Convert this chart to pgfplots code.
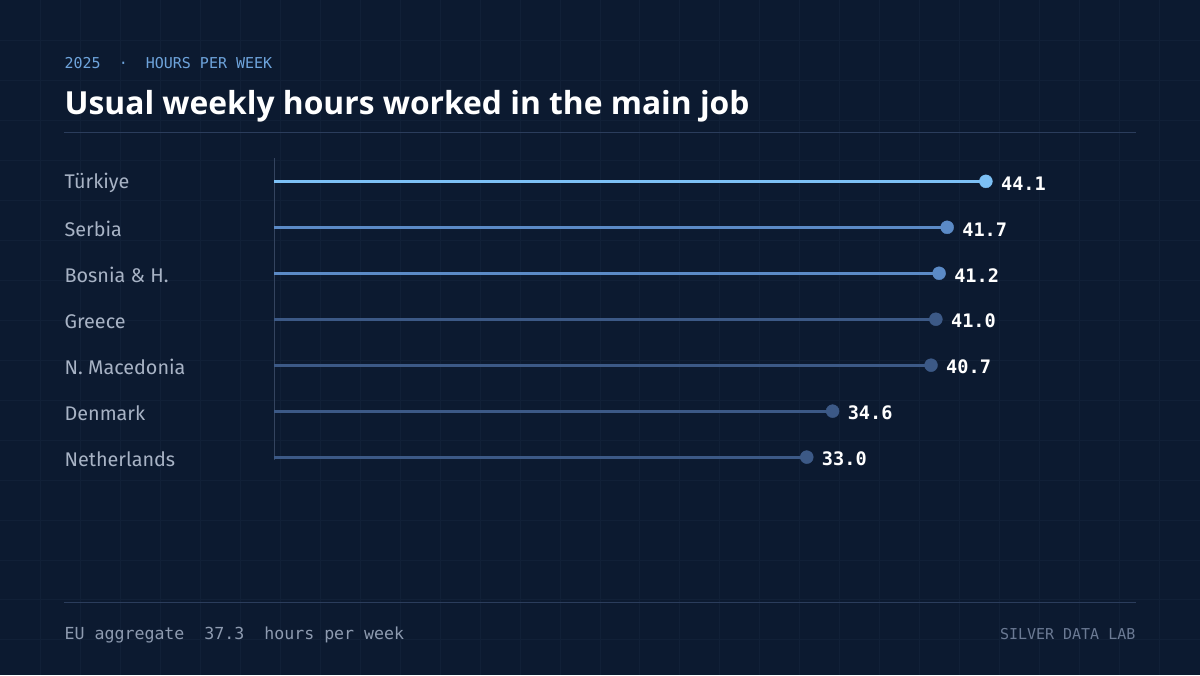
\documentclass[border=0pt]{standalone}
\usepackage{fontspec}
\setmainfont{Fira Sans}
\setmonofont{DejaVu Sans Mono}
\newfontfamily\titlefont{Open Sans}
\usepackage{pgfplots}
\pgfplotsset{compat=1.18}

\definecolor{bg}{HTML}{0C1A30}
\definecolor{gridc}{HTML}{112037}
\definecolor{rulec}{HTML}{2B3D5C}
\definecolor{axisc}{HTML}{34445F}
\definecolor{hi}{HTML}{7CC0F5}
\definecolor{mid}{HTML}{5B8AC6}
\definecolor{lo}{HTML}{3C5986}
\definecolor{lab}{HTML}{A8B3C5}
\definecolor{sub}{HTML}{6EA4DC}
\definecolor{foot}{HTML}{8E9BB0}
\definecolor{brand}{HTML}{6B7A94}

\tikzset{country/.style={anchor=west, inner sep=0, text=lab, font=\fontsize{19.8}{22}\selectfont, xshift=-210pt, yshift=-2pt}}

\begin{document}
\begin{tikzpicture}[x=1pt,y=1pt]
  % backdrop and faint 40px grid
  \fill[bg] (0,0) rectangle (1200,675);
  \foreach \i in {1,...,29} \draw[gridc, line width=1pt] ({40*\i},0) -- ({40*\i},675);
  \foreach \k in {1,...,16} \draw[gridc, line width=1pt] (0,{675-40*\k}) -- (1200,{675-40*\k});

  % header
  \node[anchor=base west, inner sep=0, text=sub, font=\ttfamily\fontsize{15}{18}\selectfont]
    at (64,607) {2025\ \ ·\ \ HOURS PER WEEK};
  \node[anchor=base west, inner sep=0, text=white, font=\titlefont\bfseries\fontsize{31.8}{38}\selectfont]
    at (64,561) {Usual weekly hours worked in the main job};
  \draw[rulec, line width=1.5pt] (64,543) -- (1136,543);

  % footer
  \draw[rulec, line width=1pt] (64,72) -- (1136,72);
  \node[anchor=base west, inner sep=0, text=foot, font=\ttfamily\fontsize{16.6}{19}\selectfont]
    at (64,35) {EU aggregate\ \ 37.3\ \ hours per week};
  \node[anchor=base east, inner sep=0, text=brand, font=\ttfamily\fontsize{15}{18}\selectfont]
    at (1136,35) {SILVER DATA LAB};

  \begin{axis}[
      at={(274pt,195pt)}, anchor=south west,
      scale only axis, width=807.5pt, height=322pt,
      xmin=0, xmax=50, ymin=0.5, ymax=7.5,
      axis line style={draw=none}, xtick=\empty, ytick=\empty,
      clip=false,
      stem/.style={line width=3pt},
      dot/.style={only marks, mark=*, mark size=6.5pt, point meta=explicit symbolic,
        nodes near coords,
        nodes near coords style={anchor=west, inner sep=0, xshift=15pt, yshift=-2pt,
          text=white, font=\ttfamily\bfseries\fontsize{18.6}{20}\selectfont}},
    ]
    \draw[axisc, line width=1pt] (axis cs:0,7.5) -- (axis cs:0,0.93);

    % stems
    \addplot[stem, hi]  coordinates {(0,7) (44.1,7)};
    \addplot[stem, mid] coordinates {(0,6) (41.7,6)};
    \addplot[stem, mid] coordinates {(0,5) (41.2,5)};
    \addplot[stem, lo]  coordinates {(0,4) (41.0,4)};
    \addplot[stem, lo]  coordinates {(0,3) (40.7,3)};
    \addplot[stem, lo]  coordinates {(0,2) (34.6,2)};
    \addplot[stem, lo]  coordinates {(0,1) (33.0,1)};

    % end dots with value labels
    \addplot[dot, hi, mark options={fill=hi, draw=hi}]   coordinates {(44.1,7) [44.1]};
    \addplot[dot, mid, mark options={fill=mid, draw=mid}] coordinates {(41.7,6) [41.7] (41.2,5) [41.2]};
    \addplot[dot, lo, mark options={fill=lo, draw=lo}]   coordinates {(41.0,4) [41.0] (40.7,3) [40.7] (34.6,2) [34.6] (33.0,1) [33.0]};

    % country names
    \node[country] at (axis cs:0,7) {Türkiye};
    \node[country] at (axis cs:0,6) {Serbia};
    \node[country] at (axis cs:0,5) {Bosnia \& H.};
    \node[country] at (axis cs:0,4) {Greece};
    \node[country] at (axis cs:0,3) {N. Macedonia};
    \node[country] at (axis cs:0,2) {Denmark};
    \node[country] at (axis cs:0,1) {Netherlands};
  \end{axis}
\end{tikzpicture}
\end{document}
